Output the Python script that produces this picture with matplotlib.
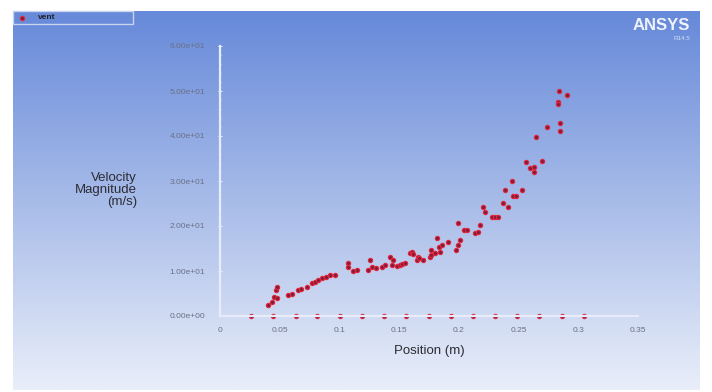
import numpy as np
import matplotlib
matplotlib.use("Agg")
import matplotlib.pyplot as plt
from matplotlib.patches import Rectangle

plt.rcParams['font.family'] = ['Liberation Sans', 'DejaVu Sans']

# wall points (velocity ~ 0)
wall_x = [0.026, 0.0446, 0.0634, 0.0815, 0.1005, 0.119, 0.1376, 0.156,
          0.175, 0.1935, 0.212, 0.2303, 0.249, 0.2674, 0.286, 0.305]
wall_v = [0.0] * len(wall_x)

# flow points
pos = [0.0405, 0.0433, 0.0455, 0.0475, 0.047, 0.0475, 0.057, 0.060, 0.0656, 0.068,
       0.0726, 0.0768, 0.0796, 0.082, 0.085, 0.089, 0.092, 0.096, 0.1075, 0.1075,
       0.1117, 0.1145, 0.124, 0.1256, 0.127, 0.131, 0.1354, 0.138, 0.142, 0.144,
       0.145, 0.148, 0.151, 0.152, 0.155, 0.159, 0.1605, 0.162, 0.165, 0.166,
       0.167, 0.170, 0.176, 0.177, 0.177, 0.180, 0.1815, 0.183, 0.184, 0.1857,
       0.191, 0.198, 0.199, 0.201, 0.1996, 0.204, 0.207, 0.2136, 0.216, 0.2178,
       0.2205, 0.222, 0.2275, 0.230, 0.233, 0.237, 0.2415, 0.2387, 0.2443, 0.2457,
       0.248, 0.2527, 0.2563, 0.2596, 0.263, 0.263, 0.270, 0.2644, 0.274, 0.2848,
       0.2848, 0.2828, 0.2828, 0.284, 0.2904]
vel = [2.4, 3.2, 4.3, 3.9, 5.8, 6.5, 4.7, 5.0, 5.8, 6.1,
       6.5, 7.3, 7.6, 8.0, 8.4, 8.7, 9.1, 9.1, 11.7, 11.0,
       9.9, 10.2, 10.2, 12.4, 11.0, 10.6, 11.0, 11.3, 13.2, 11.3,
       12.4, 11.1, 11.3, 11.6, 11.7, 13.9, 14.3, 13.7, 12.4, 13.2,
       12.8, 12.4, 13.2, 14.7, 13.6, 13.9, 17.3, 15.4, 14.3, 15.8,
       16.5, 14.7, 15.8, 16.9, 20.6, 19.1, 19.1, 18.4, 18.7, 20.2,
       24.3, 23.2, 22.1, 22.1, 22.1, 25.2, 24.3, 28.1, 30.1, 26.7,
       26.7, 28.1, 34.3, 32.8, 33.2, 31.9, 34.5, 39.7, 42.1, 43.0,
       41.1, 47.6, 47.1, 50.1, 49.1]

xticks = [0, 0.05, 0.1, 0.15, 0.2, 0.25, 0.3, 0.35]
xtick_labels = ['0', '0.05', '0.1', '0.15', '0.2', '0.25', '0.3', '0.35']
yticks = [0, 10, 20, 30, 40, 50, 60]
ytick_labels = ['0.00e+00', '1.00e+01', '2.00e+01', '3.00e+01',
                '4.00e+01', '5.00e+01', '6.00e+01']

W, H = 712, 392
fig = plt.figure(figsize=(W / 100, H / 100), dpi=100)
fig.patch.set_facecolor('white')

# gradient background panel
bg = fig.add_axes([13 / W, 2 / H, 687 / W, 379 / H], zorder=0)
top = np.array([102, 137, 217]) / 255.0
bot = np.array([233, 238, 249]) / 255.0
t = np.linspace(0, 1, 256)[:, None]
grad = top[None, :] * (1 - t) + bot[None, :] * t
bg.imshow(grad[:, None, :], aspect='auto', extent=[0, 1, 0, 1])
bg.set_axis_off()

ax = fig.add_axes([220 / W, 76 / H, 418 / W, 270 / H], zorder=1)
ax.patch.set_alpha(0)
ax.set_xlim(0, 0.35)
ax.set_ylim(0, 60)

mk = dict(marker='o', linestyle='none', markersize=3.0,
          markerfacecolor='#7a1a3c', markeredgecolor='#e0283c', markeredgewidth=0.9)
ax.plot(wall_x, wall_v, clip_on=False, **mk)
ax.plot(pos, vel, clip_on=False, **mk)

for s in ['top', 'right']:
    ax.spines[s].set_visible(False)
for s in ['left', 'bottom']:
    ax.spines[s].set_color('#e6ecf9')
    ax.spines[s].set_linewidth(1.6)

ax.set_xticks(xticks)
ax.set_xticklabels(xtick_labels)
ax.set_yticks(yticks)
ax.set_yticklabels(ytick_labels)
ax.set_yticks(np.arange(0, 61, 2), minor=True)
ax.tick_params(axis='both', which='major', labelsize=6, labelcolor='#6a7086',
               color='#e6ecf9', length=3, direction='inout')
ax.tick_params(axis='x', which='major', length=0, pad=8)
ax.tick_params(axis='y', which='major', pad=9)
ax.tick_params(axis='y', which='minor', color='#dfe6f6', length=2, width=0.6,
               direction='inout')

ax.set_xlabel('Position (m)', fontsize=9.5, color='#2c2c34', labelpad=8)
fig.text(137 / W, 1 - 190 / H, 'Velocity\nMagnitude\n(m/s)', ha='right', va='center',
         fontsize=9.5, color='#2c2c34', linespacing=1.05)

# legend box
fig.add_artist(Rectangle((13 / W, 1 - 24 / H), 120 / W, 13 / H, transform=fig.transFigure,
                         facecolor='none', edgecolor='#c8d3f0', linewidth=1))
fig.add_artist(plt.Line2D([22 / W], [1 - 17.5 / H], transform=fig.transFigure, **mk))
fig.text(38 / W, 1 - 17.5 / H, 'vent', fontsize=6, fontweight='bold', color='#20202a',
         va='center', ha='left')

# logo
fig.text(690 / W, 1 - 25 / H, 'ANSYS', fontsize=12, fontweight='bold', color='#eef2fc',
         ha='right', va='center')
fig.text(690 / W, 1 - 39 / H, 'R14.5', fontsize=4.5, color='#d5def6', ha='right', va='center')

fig.savefig('out.png', dpi=100)
